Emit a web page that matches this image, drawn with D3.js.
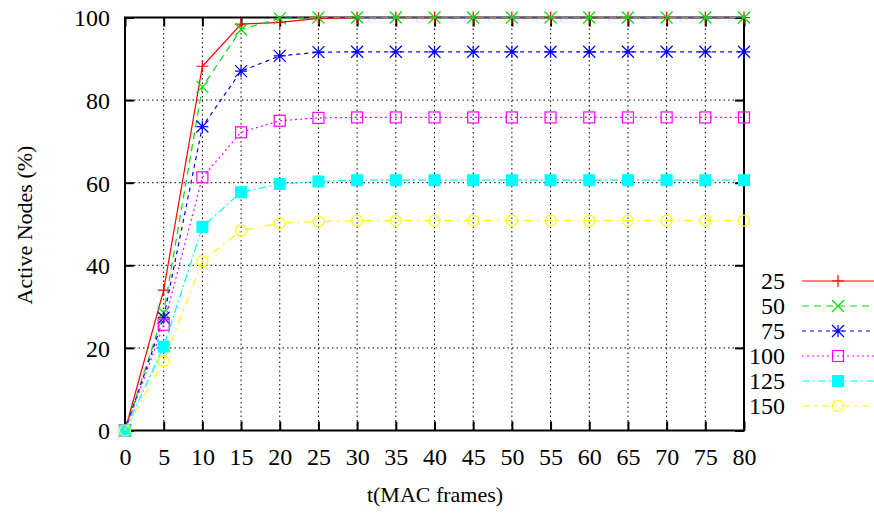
<!DOCTYPE html>
<html>
<head>
<meta charset="utf-8">
<script src="https://cdn.jsdelivr.net/npm/d3@7/dist/d3.min.js"></script>
<style>
html,body{margin:0;padding:0;background:#fff;}
svg text{font-family:"Liberation Serif","DejaVu Serif",serif;fill:#000;}
</style>
</head>
<body>
<svg id="chart" width="874" height="514"></svg>
<script>
const tValues = [0,5,10,15,20,25,30,35,40,45,50,55,60,65,70,75,80];
const seriesNames = ["25","50","75","100","125","150"];
const s25  = [0,34,88.2,98.4,98.8,99.8,100,100,100,100,100,100,100,100,100,100,100];
const s50  = [0,28.5,83.2,97.1,99.8,100,100,100,100,100,100,100,100,100,100,100,100];
const s75  = [0,27.3,73.6,87.0,90.7,91.6,91.7,91.7,91.7,91.7,91.7,91.7,91.7,91.7,91.7,91.7,91.7];
const s100 = [0,25.6,61.3,72.2,75.0,75.7,75.8,75.8,75.8,75.8,75.8,75.8,75.8,75.8,75.8,75.8,75.8];
const s125 = [0,20.3,49.3,57.7,59.7,60.3,60.6,60.6,60.6,60.6,60.6,60.6,60.6,60.6,60.6,60.6,60.6];
const s150 = [0,16.8,41.0,48.4,50.2,50.6,50.8,50.8,50.8,50.8,50.8,50.8,50.8,50.8,50.8,50.8,50.8];
const xTicks = [0,5,10,15,20,25,30,35,40,45,50,55,60,65,70,75,80];
const yTicks = [0,20,40,60,80,100];

const allSeries = [s25,s50,s75,s100,s125,s150];
const colors = ["#ff0000","#00e000","#0000ff","#ff00ff","#00ffff","#ffff00"];
const dashes = [null,"7,5","4,4","2,3","8,3,2,3","8,5,2,5"];
const markers = ["plus","cross","star","box","fbox","circle"];

const svg = d3.select("#chart");
const L=125, R=744, T=17.5, B=430.5;
const x = d3.scaleLinear().domain([0,80]).range([L,R]);
const y = d3.scaleLinear().domain([0,100]).range([B,T]);

// grid
const g = svg.append("g");
g.selectAll("line.gx").data(xTicks.slice(1,-1)).enter().append("line")
  .attr("x1",d=>x(d)).attr("x2",d=>x(d)).attr("y1",B).attr("y2",T)
  .attr("stroke","#000").attr("stroke-width",1).attr("stroke-dasharray","1.5,3");
g.selectAll("line.gy").data(yTicks.slice(1,-1)).enter().append("line")
  .attr("x1",L).attr("x2",R).attr("y1",d=>y(d)).attr("y2",d=>y(d))
  .attr("stroke","#000").attr("stroke-width",1).attr("stroke-dasharray","1.5,3");

// axes
const xAxis = svg.append("g").attr("transform",`translate(0,${B})`)
  .call(d3.axisBottom(x).tickValues(xTicks).tickSize(-9).tickPadding(17).tickFormat(d3.format("d")));
const xAxisTop = svg.append("g").attr("transform",`translate(0,${T})`)
  .call(d3.axisTop(x).tickValues(xTicks).tickSize(-9).tickFormat(""));
const yAxis = svg.append("g").attr("transform",`translate(${L},0)`)
  .call(d3.axisLeft(y).tickValues(yTicks).tickSize(-9).tickPadding(15).tickFormat(d3.format("d")));
const yAxisR = svg.append("g").attr("transform",`translate(${R},0)`)
  .call(d3.axisRight(y).tickValues(yTicks).tickSize(-9).tickFormat(""));
[xAxis,xAxisTop,yAxis,yAxisR].forEach(a=>{
  a.attr("font-size",null).attr("font-family",null);
  a.select(".domain").remove();
  a.selectAll(".tick line").attr("stroke","#000").attr("stroke-width",2);
  a.selectAll("text").style("font-family","Liberation Serif").style("font-size","24px").attr("fill","#000");
});
xAxis.selectAll("text").attr("dy","0.71em");
yAxis.selectAll("text").attr("dy","0.35em");

svg.append("rect").attr("x",L).attr("y",T).attr("width",R-L).attr("height",B-T)
  .attr("fill","none").attr("stroke","#000").attr("stroke-width",2);

function drawMarker(sel, type, cx, cy, color){
  const s=6;
  if(type==="plus"){
    sel.append("path").attr("d",`M${cx-s},${cy}H${cx+s}M${cx},${cy-s}V${cy+s}`).attr("stroke",color).attr("stroke-width",1.2).attr("fill","none");
  } else if(type==="cross"){
    sel.append("path").attr("d",`M${cx-s},${cy-s}L${cx+s},${cy+s}M${cx-s},${cy+s}L${cx+s},${cy-s}`).attr("stroke",color).attr("stroke-width",1.2).attr("fill","none");
  } else if(type==="star"){
    sel.append("path").attr("d",`M${cx-s},${cy}H${cx+s}M${cx},${cy-s}V${cy+s}M${cx-s},${cy-s}L${cx+s},${cy+s}M${cx-s},${cy+s}L${cx+s},${cy-s}`).attr("stroke",color).attr("stroke-width",1.2).attr("fill","none");
  } else if(type==="box"){
    sel.append("rect").attr("x",cx-5.5).attr("y",cy-5.5).attr("width",11).attr("height",11).attr("stroke",color).attr("stroke-width",1.2).attr("fill","none");
  } else if(type==="fbox"){
    sel.append("rect").attr("x",cx-6).attr("y",cy-6).attr("width",12).attr("height",12).attr("fill",color);
  } else if(type==="circle"){
    sel.append("circle").attr("cx",cx).attr("cy",cy).attr("r",5.5).attr("stroke",color).attr("stroke-width",1.2).attr("fill","none");
  }
}

const line = d3.line().x((d,i)=>x(tValues[i])).y(d=>y(d));
allSeries.forEach((data,k)=>{
  const sg = svg.append("g");
  sg.append("path").attr("d",line(data)).attr("fill","none").attr("stroke",colors[k])
    .attr("stroke-width",1.2).attr("stroke-dasharray",dashes[k]);
  data.forEach((v,i)=>drawMarker(sg,markers[k],x(tValues[i]),y(v),colors[k]));
});

// legend
const legY0 = 281, legStep = 25;
seriesNames.forEach((name,k)=>{
  const ly = legY0 + k*legStep;
  svg.append("text").attr("x",785).attr("y",ly).attr("dy","0.35em").attr("text-anchor","end")
    .style("font-size","24px").text(name);
  svg.append("line").attr("x1",802).attr("x2",874).attr("y1",ly).attr("y2",ly)
    .attr("stroke",colors[k]).attr("stroke-width",1.2).attr("stroke-dasharray",dashes[k]);
  drawMarker(svg,markers[k],838,ly,colors[k]);
});

// axis labels
svg.append("text").attr("x",435).attr("y",502).attr("text-anchor","middle").style("font-size","22px").text("t(MAC frames)");
svg.append("text").attr("transform","translate(32,225) rotate(-90)").attr("text-anchor","middle").style("font-size","22px").text("Active Nodes (%)");
</script>
</body>
</html>
